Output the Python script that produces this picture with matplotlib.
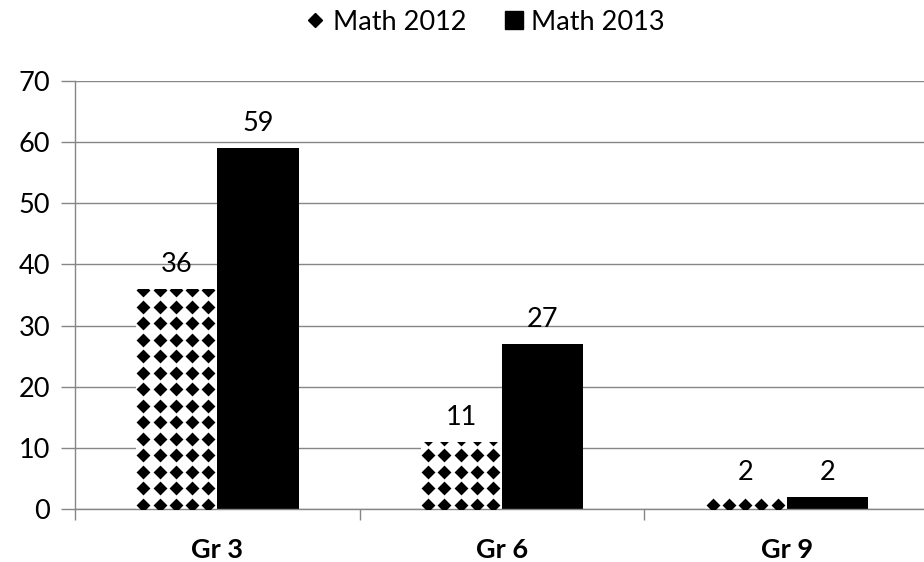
import numpy as np
import matplotlib
matplotlib.use("Agg")
import matplotlib.pyplot as plt
from matplotlib.lines import Line2D

# data
grades = ["Gr 3", "Gr 6", "Gr 9"]
math_2012 = [36, 11, 2]
math_2013 = [59, 27, 2]
series_names = ["Math 2012", "Math 2013"]
y_ticks = [0, 10, 20, 30, 40, 50, 60, 70]

plt.rcParams['font.family'] = ['Lato', 'DejaVu Sans']
grid_col = '#868686'
fs = 19.5

fig = plt.figure(figsize=(9.24, 5.62), dpi=100)
ax = fig.add_axes([75 / 924, 1 - 509 / 562, 854 / 924, 428 / 562])

x = np.arange(len(grades))
w = 0.286
bars12 = ax.bar(x - w / 2, math_2012, w, color='white', edgecolor='none', zorder=2)
bars13 = ax.bar(x + w / 2, math_2013, w, color='black', edgecolor='none', zorder=2)

ax.set_xlim(-0.5, len(grades) - 0.5)
ax.set_ylim(0, 70)

# diamond texture for the 2012 bars, clipped to each bar
px_x = 854 / (len(grades))        # pixels per category unit
px_y = 428 / 70.0                 # pixels per y unit
step_x = 16.3 / px_x
step_y = 16.5 / px_y
for b in bars12:
    x0, h = b.get_x(), b.get_height()
    xs = np.arange(x0 + step_x * 0.45, x0 + b.get_width() + step_x, step_x)
    ys = np.arange(step_y * 0.25, h + step_y, step_y)
    gx, gy = np.meshgrid(xs, ys)
    sc = ax.scatter(gx.ravel(), gy.ravel(), marker='D', s=50, color='black',
                    linewidths=0, zorder=3)
    sc.set_clip_path(b)

# value labels
for bars, vals in [(bars12, math_2012), (bars13, math_2013)]:
    for b, v in zip(bars, vals):
        ax.text(b.get_x() + b.get_width() / 2, v + 2.0, str(v), ha='center',
                va='bottom', fontsize=fs, zorder=4)

ax.set_yticks(y_ticks)
ax.yaxis.grid(True, color=grid_col, linewidth=1)
ax.set_axisbelow(True)
ax.tick_params(axis='y', length=10, width=1, color=grid_col, labelsize=fs, pad=8)

ax.set_xticks(np.arange(len(grades) + 1) - 0.5, minor=False)
ax.set_xticklabels([])
ax.set_xticks(x, minor=True)
ax.set_xticklabels(grades, minor=True, fontsize=fs, fontweight='bold')
ax.tick_params(axis='x', which='major', length=8, width=1, color=grid_col)
ax.tick_params(axis='x', which='minor', length=0, pad=21)

for s in ['top', 'right']:
    ax.spines[s].set_visible(False)
for s in ['left', 'bottom']:
    ax.spines[s].set_color(grid_col)
    ax.spines[s].set_linewidth(1)

handles = [Line2D([], [], marker='D', color='black', linestyle='none', markersize=7),
           Line2D([], [], marker='s', color='black', linestyle='none', markersize=13)]
fig.legend(handles, series_names, loc='center', bbox_to_anchor=(484 / 924, 1 - 22 / 562),
           ncol=2, frameon=False, fontsize=fs, handletextpad=0.2, columnspacing=1.3,
           handlelength=0.9)

fig.savefig("out.png", dpi=100)
